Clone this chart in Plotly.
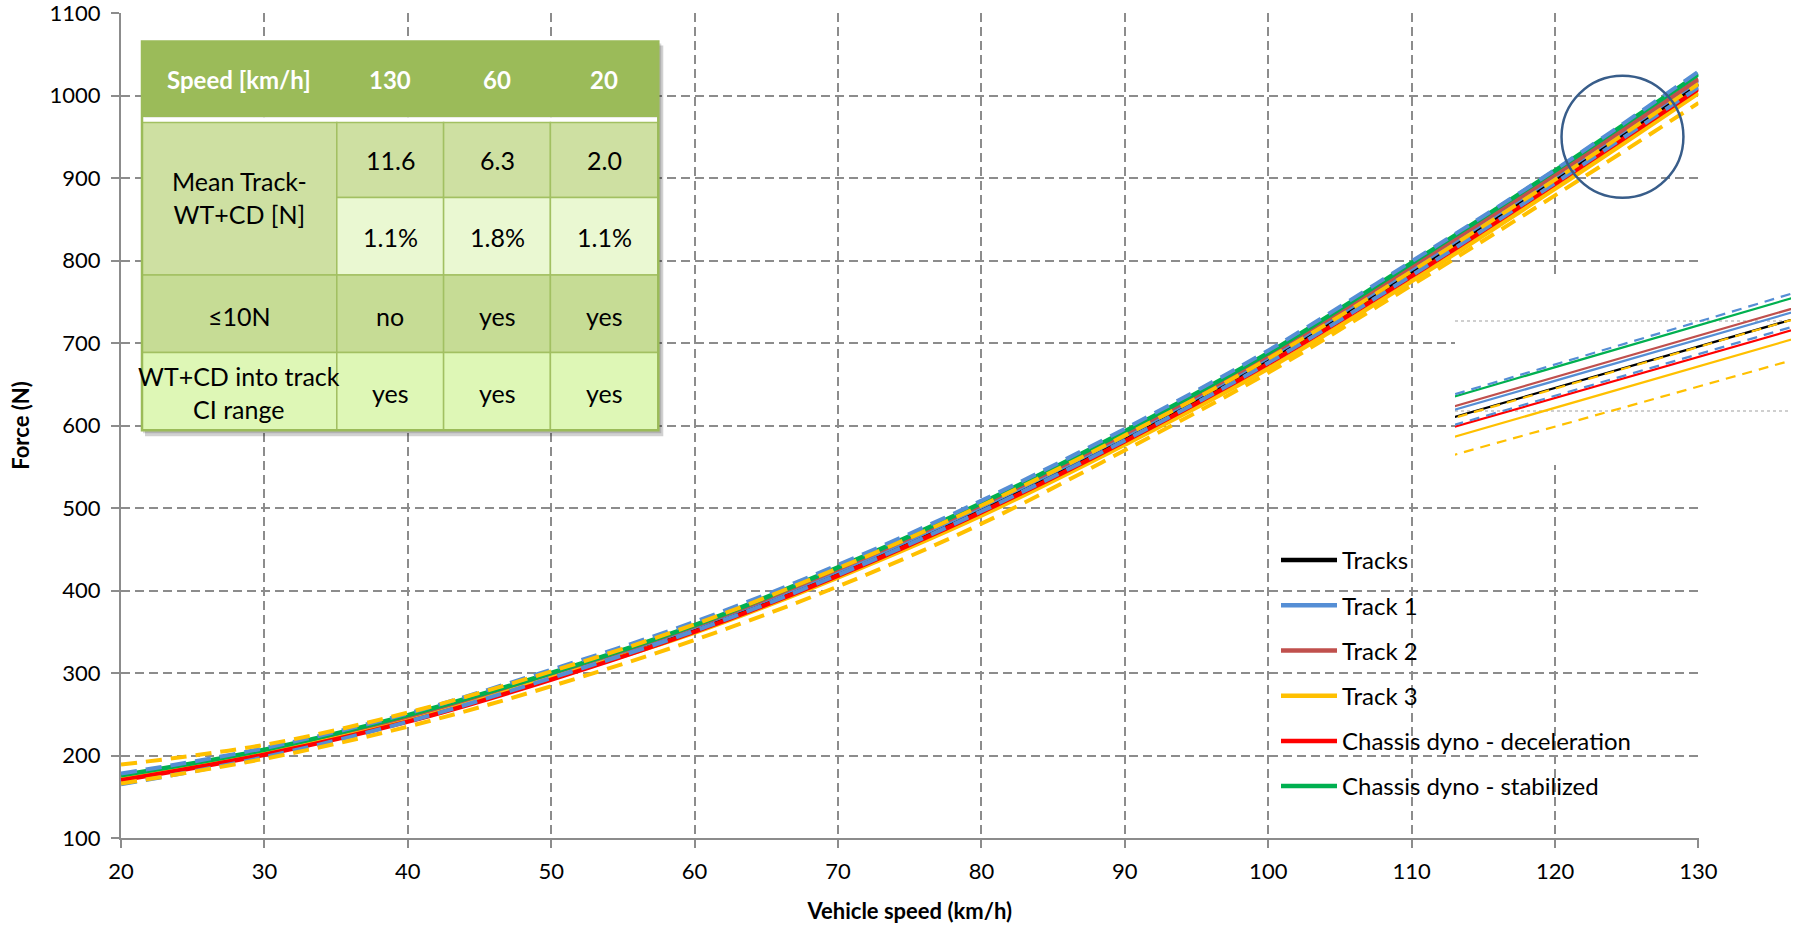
import plotly.graph_objects as go

# ---------------- data ----------------
speed = [20, 30, 40, 50, 60, 70, 80, 90, 100, 110, 120, 130]

tracks       = [173, 204, 245, 297, 354, 422, 499, 585, 679, 786, 898, 1014]
track1       = [172, 204, 246, 298, 356, 424, 502, 588, 683, 790, 902, 1018]
track1_ci_up = [178, 209, 251, 304, 362, 431, 509, 596, 691, 799, 910, 1029]
track1_ci_lo = [165, 198, 241, 294, 351, 419, 496, 582, 676, 782, 894, 1010]
track2       = [173, 205, 247, 299, 357, 426, 504, 590, 685, 793, 904, 1020]
track3       = [174, 203, 242, 294, 349, 416, 491, 577, 669, 775, 887, 1003]
track3_ci_up = [189, 213, 252, 302, 359, 427, 503, 588, 681, 787, 898, 1014]
track3_ci_lo = [166, 196, 235, 284, 340, 405, 481, 570, 664, 770, 879, 991]
cd_decel     = [170, 201, 241, 292, 350, 418, 495, 581, 675, 781, 893, 1008]
cd_stab      = [176, 207, 249, 300, 358, 428, 506, 593, 688, 797, 909, 1026]

x_ticks = [20, 30, 40, 50, 60, 70, 80, 90, 100, 110, 120, 130]
y_ticks = [100, 200, 300, 400, 500, 600, 700, 800, 900, 1000, 1100]

table_header = ["Speed [km/h]", "130", "60", "20"]
table_mean_label = "Mean Track-<br>WT+CD [N]"
table_mean_n = ["11.6", "6.3", "2.0"]
table_mean_pct = ["1.1%", "1.8%", "1.1%"]
table_le10_label = "≤10N"
table_le10 = ["no", "yes", "yes"]
table_ci_label = "WT+CD into track<br>CI range"
table_ci = ["yes", "yes", "yes"]

highlight_center = (124.7, 950)
highlight_radius = (4.25, 74)
inset_x_range = [124.2, 128.85]
inset_y_range = [920, 1025]

# ---------------- layout geometry ----------------
W, H = 1796, 929
ML, MR, MT, MB = 121, 5, 13, 91
PW = W - ML - MR
PH = H - MT - MB


def fx(px):
    return (px - ML) / PW


def fy(py):
    return (H - MB - py) / PH


FONT = "Lato"
C_BLACK = "#000000"
C_T1 = "#558ED5"
C_T2 = "#C0504D"
C_T3 = "#FFC000"
C_RED = "#FF0000"
C_GREEN = "#00B050"
GRID = "#8C8C8C"

fig = go.Figure()

series = [
    ("Tracks", tracks, C_BLACK, None, True),
    ("Track 1", track1, C_T1, None, True),
    ("Track 2", track2, C_T2, None, True),
    ("Track 3", track3, C_T3, None, True),
    ("Chassis dyno - deceleration", cd_decel, C_RED, None, True),
    ("Chassis dyno - stabilized", cd_stab, C_GREEN, None, True),
    ("Track 1 CI up", track1_ci_up, C_T1, "dash", False),
    ("Track 1 CI low", track1_ci_lo, C_T1, "dash", False),
    ("Track 3 CI up", track3_ci_up, C_T3, "dash", False),
    ("Track 3 CI low", track3_ci_lo, C_T3, "dash", False),
]

for i, (name, vals, col, dash, leg) in enumerate(series):
    fig.add_trace(go.Scatter(
        x=speed, y=vals, mode="lines", name=name,
        line=dict(color=col, width=4.5 if dash is None else 4,
                  dash="16px,9px" if dash else "solid", shape="spline"),
        showlegend=leg, legendgroup=name, legendrank=i + 1,
        xaxis="x", yaxis="y", hoverinfo="skip"))

# inset (zoomed view)
for name, vals, col, dash, leg in series:
    fig.add_trace(go.Scatter(
        x=speed, y=vals, mode="lines", name=name,
        line=dict(color=col, width=2.2,
                  dash="10px,7px" if dash else "solid", shape="spline"),
        showlegend=False, xaxis="x2", yaxis="y2", hoverinfo="skip"))

# ---------------- shapes: highlight circle + table ----------------
shapes = []
cx, cy = highlight_center
rx, ry = highlight_radius
shapes.append(dict(type="circle", xref="x", yref="y",
                   x0=cx - rx, x1=cx + rx, y0=cy - ry, y1=cy + ry,
                   line=dict(color="#385D8A", width=2.5)))

TX = [142, 336.8, 443.6, 550.4, 658.3]
TY = [41.6, 117.3, 122.6, 197.4, 275.1, 352.6, 430.3]
C_HEAD = "#9BBB59"
C_MEAN = "#CEE0A2"
C_PCT = "#EAF8D2"
C_LE10 = "#C6DC95"
C_CI = "#DEF7B6"
C_BORD = "#A2C062"


def rect(x0, y0, x1, y1, fill, lw=1.5, lc=C_BORD):
    return dict(type="rect", xref="paper", yref="paper",
                x0=fx(x0), x1=fx(x1), y0=fy(y1), y1=fy(y0),
                fillcolor=fill, line=dict(color=lc, width=lw), layer="above")


# shadow
shapes.append(dict(type="rect", xref="paper", yref="paper",
                   x0=fx(TX[0] + 3), x1=fx(TX[-1] + 5), y0=fy(TY[-1] + 6), y1=fy(TY[0] + 4),
                   fillcolor="rgba(0,0,0,0.18)", line=dict(width=0), layer="above"))
shapes.append(dict(type="rect", xref="paper", yref="paper",
                   x0=fx(TX[0] + 1), x1=fx(TX[-1] + 3), y0=fy(TY[-1] + 3), y1=fy(TY[0] + 2),
                   fillcolor="rgba(0,0,0,0.15)", line=dict(width=0), layer="above"))
shapes.append(rect(TX[0], TY[0], TX[-1], TY[1], C_HEAD, 0))
shapes.append(rect(TX[0], TY[1], TX[-1], TY[2], "#FFFFFF", 0))
shapes.append(rect(TX[0], TY[2], TX[1], TY[4], C_MEAN))
for c in range(1, 4):
    shapes.append(rect(TX[c], TY[2], TX[c + 1], TY[3], C_MEAN))
    shapes.append(rect(TX[c], TY[3], TX[c + 1], TY[4], C_PCT))
for c in range(0, 4):
    shapes.append(rect(TX[c], TY[4], TX[c + 1], TY[5], C_LE10))
    shapes.append(rect(TX[c], TY[5], TX[c + 1], TY[6], C_CI))
shapes.append(dict(type="rect", xref="paper", yref="paper",
                   x0=fx(TX[0]), x1=fx(TX[-1]), y0=fy(TY[-1]), y1=fy(TY[0]),
                   line=dict(color="#9BBB59", width=2.5), layer="above"))

annotations = []


def txt(text, xc, yc, size=25, color="#000000", bold=False):
    annotations.append(dict(text=text, xref="paper", yref="paper",
                            x=fx(xc), y=fy(yc), xanchor="center", yanchor="middle",
                            showarrow=False,
                            font=dict(family=FONT, size=size, color=color,
                                      weight="bold" if bold else "normal")))


colc = [(TX[i] + TX[i + 1]) / 2 for i in range(4)]
for i, h in enumerate(table_header):
    txt(h, colc[i], (TY[0] + TY[1]) / 2, size=24, color="#FFFFFF", bold=True)
txt(table_mean_label, colc[0], (TY[2] + TY[4]) / 2 - 1)
for i in range(3):
    txt(table_mean_n[i], colc[i + 1], (TY[2] + TY[3]) / 2)
    txt(table_mean_pct[i], colc[i + 1], (TY[3] + TY[4]) / 2 + 1)
    txt(table_le10[i], colc[i + 1], (TY[4] + TY[5]) / 2 + 2)
    txt(table_ci[i], colc[i + 1], (TY[5] + TY[6]) / 2 + 2)
txt(table_le10_label, colc[0], (TY[4] + TY[5]) / 2 + 2)
txt(table_ci_label, colc[0], (TY[5] + TY[6]) / 2 + 1)

axis_common = dict(
    showline=True, linecolor=GRID, linewidth=2,
    ticks="outside", ticklen=8, tickcolor=GRID, tickwidth=1.5,
    showgrid=True, gridcolor=GRID, gridwidth=1.5, griddash="9px,5px",
    zeroline=False, tickfont=dict(family=FONT, size=22, color="#000000"),
    automargin=False, ticklabeloverflow="allow",
)

fig.update_layout(
    width=W, height=H,
    margin=dict(l=ML, r=MR, t=MT, b=MB, autoexpand=False),
    template="none",
    paper_bgcolor="#FFFFFF", plot_bgcolor="#FFFFFF",
    font=dict(family=FONT, color="#000000"),
    xaxis=dict(axis_common, domain=[0, fx(1698.5)], range=[20, 130.001],
               tickvals=x_ticks, ticklabelstandoff=5,
               title=dict(text="Vehicle speed (km/h)", standoff=20,
                          font=dict(family=FONT, size=22, weight="bold"))),
    yaxis=dict(axis_common, domain=[0, 1], range=[100, 1100.01],
               tickvals=y_ticks, ticklabelstandoff=6,
               title=dict(text="Force (N)", standoff=14,
                          font=dict(family=FONT, size=22, weight="bold"))),
    xaxis2=dict(domain=[fx(1455), 1.0], range=inset_x_range, anchor="y2",
                showgrid=False, showline=False, zeroline=False,
                showticklabels=False, ticks=""),
    yaxis2=dict(domain=[fy(465), fy(276)], range=inset_y_range, anchor="x2",
                dtick=50, showgrid=True, gridcolor="#CFCFCF", gridwidth=1.5,
                griddash="dot", showline=False, zeroline=False,
                showticklabels=False, ticks=""),
    legend=dict(x=fx(1276), y=fy(538), xanchor="left", yanchor="top",
                bgcolor="rgba(0,0,0,0)", traceorder="grouped",
                tracegroupgap=11, itemwidth=56,
                font=dict(family=FONT, size=24, color="#000000")),
    shapes=shapes, annotations=annotations,
)

fig.write_html("out.html", config={"displayModeBar": False},
               post_script="document.body.style.margin='0';document.body.style.padding='0';")
